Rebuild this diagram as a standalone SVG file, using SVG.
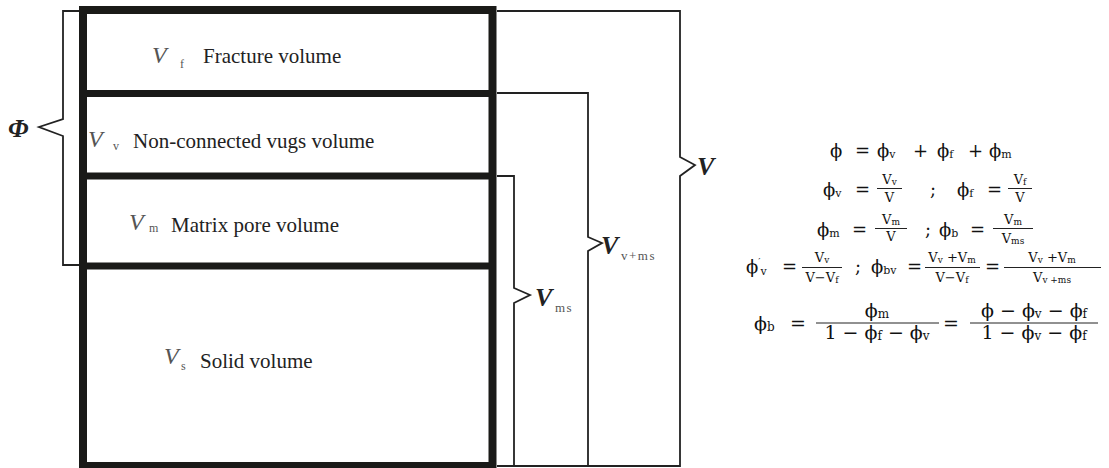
<svg xmlns="http://www.w3.org/2000/svg" width="1109" height="468" viewBox="0 0 1109 468">
<style>
.thick{fill:none;stroke:#1a1a18;stroke-width:8}
.div{stroke:#1a1a18;stroke-width:7}
.br{fill:none;stroke:#222;stroke-width:1.8;stroke-linejoin:miter}
.lbl{font-family:"Liberation Serif",serif;font-size:21px;fill:#222}
.vi{font-family:"Liberation Serif",serif;font-size:24px;font-style:italic;fill:#555}
.vsub{font-family:"Liberation Serif",serif;font-size:12px;fill:#555}
.bv{font-family:"Liberation Serif",serif;font-size:26px;font-style:italic;font-weight:bold;fill:#222}
.bsub{font-family:"Liberation Serif",serif;font-size:13px;fill:#555;letter-spacing:1.5px}
.eq{font-family:"DejaVu Serif",serif;font-size:18px;fill:#111}
.eqL{font-family:"DejaVu Serif",serif;font-size:19px;fill:#111}
.fr{font-family:"DejaVu Serif",serif;font-size:13px;fill:#111}
.s{font-size:11px}
.fs{font-size:9px}
.bar{stroke:#222;stroke-width:1}
</style>
<g id="box">
<rect class="thick" x="83" y="10" width="409.5" height="456"/>
<line class="div" x1="83" y1="93.5" x2="492" y2="93.5"/>
<line class="div" x1="83" y1="176" x2="492" y2="176"/>
<line class="div" x1="83" y1="266" x2="492" y2="266"/>
</g>
<g id="fracture">
<text class="vi" x="152" y="63">V</text><text class="vsub" x="180" y="68">f</text>
<text class="lbl" x="203" y="63">Fracture volume</text>
</g>
<g id="vugs">
<text class="vi" x="88" y="147">V</text><text class="vsub" x="113" y="150">v</text>
<text class="lbl" x="133" y="148">Non-connected vugs volume</text>
</g>
<g id="matrix">
<text class="vi" x="129" y="230">V</text><text class="vsub" x="149" y="232">m</text>
<text class="lbl" x="171" y="232">Matrix pore volume</text>
</g>
<g id="solid">
<text class="vi" x="164" y="364">V</text><text class="vsub" x="181" y="370">s</text>
<text class="lbl" x="200" y="368">Solid volume</text>
</g>
<g id="connectors">
<path class="br" d="M79 11 H63 V119 L39 127 L63 136 V265 H79"/>
<path class="br" d="M497 11 H680 V157 L695 165 L680 176 V466 H497"/>
<path class="br" d="M497 93 H588 V237 L602 243 L588 251 V466"/>
<path class="br" d="M497 176 H514 V288 L530 295 L514 303 V466"/>
</g>
<g id="phi-label"><text class="bv" x="8" y="137">Φ</text></g>
<g id="V-label"><text class="bv" x="697" y="175">V</text></g>
<g id="Vvms-label"><text class="bv" x="601" y="254">V</text><text class="bsub" x="621" y="260">v+ms</text></g>
<g id="Vms-label"><text class="bv" x="535" y="306">V</text><text class="bsub" x="555" y="312">ms</text></g>
<g id="equations">
<!-- line 1 -->
<text class="eq" x="830" y="157">ϕ</text>
<text class="eq" x="855" y="157">=</text>
<text class="eq" x="877" y="157">ϕ<tspan class="s" dy="1">v</tspan></text>
<text class="eq" x="913" y="157">+</text>
<text class="eq" x="937" y="157">ϕ<tspan class="s" dy="1">f</tspan></text>
<text class="eq" x="968" y="157">+</text>
<text class="eq" x="989" y="157">ϕ<tspan class="s" dy="1">m</tspan></text>
<!-- line 2 -->
<text class="eq" x="823" y="196">ϕ<tspan class="s" dy="1">v</tspan></text>
<text class="eq" x="855" y="196">=</text>
<text class="fr" x="889.5" y="184" text-anchor="middle">V<tspan class="fs" dy="1">v</tspan></text>
<line class="bar" x1="877" y1="188.5" x2="902" y2="188.5"/>
<text class="fr" x="889.5" y="202" text-anchor="middle">V</text>
<text class="eq" x="930" y="196">;</text>
<text class="eq" x="957" y="196">ϕ<tspan class="s" dy="1">f</tspan></text>
<text class="eq" x="987" y="196">=</text>
<text class="fr" x="1020" y="184" text-anchor="middle">V<tspan class="fs" dy="1">f</tspan></text>
<line class="bar" x1="1008" y1="188.5" x2="1032" y2="188.5"/>
<text class="fr" x="1020" y="202" text-anchor="middle">V</text>
<!-- line 3 -->
<text class="eq" x="817" y="236">ϕ<tspan class="s" dy="1">m</tspan></text>
<text class="eq" x="852" y="236">=</text>
<text class="fr" x="891" y="224" text-anchor="middle">V<tspan class="fs" dy="1">m</tspan></text>
<line class="bar" x1="875" y1="228.5" x2="907" y2="228.5"/>
<text class="fr" x="891" y="241" text-anchor="middle">V</text>
<text class="eq" x="925" y="236">;</text>
<text class="eq" x="939" y="236">ϕ<tspan class="s" dy="1">b</tspan></text>
<text class="eq" x="970" y="236">=</text>
<text class="fr" x="1013" y="224" text-anchor="middle">V<tspan class="fs" dy="1">m</tspan></text>
<line class="bar" x1="993" y1="228.5" x2="1033" y2="228.5"/>
<text class="fr" x="1013" y="243" text-anchor="middle">V<tspan class="fs" dy="1">ms</tspan></text>
<!-- line 4 -->
<text class="eq" x="746" y="273">ϕ<tspan font-size="10" dy="-8">′</tspan><tspan class="s" dy="10">v</tspan></text>
<text class="eq" x="782" y="273">=</text>
<text class="fr" x="822" y="262" text-anchor="middle">V<tspan class="fs" dy="1">v</tspan></text>
<line class="bar" x1="802" y1="267.5" x2="842" y2="267.5"/>
<text class="fr" x="822" y="282" text-anchor="middle">V−V<tspan class="fs" dy="1">f</tspan></text>
<text class="eq" x="855" y="273">;</text>
<text class="eq" x="871" y="273">ϕ<tspan class="s" dy="1">bv</tspan></text>
<text class="eq" x="907" y="273">=</text>
<text class="fr" x="952" y="262" text-anchor="middle">V<tspan class="fs" dy="1">v</tspan><tspan dy="-1"> +V</tspan><tspan class="fs" dy="1">m</tspan></text>
<line class="bar" x1="925" y1="267.5" x2="980" y2="267.5"/>
<text class="fr" x="952" y="282" text-anchor="middle">V−V<tspan class="fs" dy="1">f</tspan></text>
<text class="eq" x="985" y="273">=</text>
<text class="fr" x="1052" y="262" text-anchor="middle">V<tspan class="fs" dy="1">v</tspan><tspan dy="-1"> +V</tspan><tspan class="fs" dy="1">m</tspan></text>
<line class="bar" x1="1004" y1="267.5" x2="1101" y2="267.5"/>
<text class="fr" x="1052" y="282" text-anchor="middle">V<tspan class="fs" dy="1">v +ms</tspan></text>
<!-- line 5 -->
<text class="eqL" x="754" y="330">ϕ<tspan font-size="12" dy="1">b</tspan></text>
<text class="eqL" x="790" y="330">=</text>
<text class="eqL" x="877" y="317" text-anchor="middle">ϕ<tspan font-size="12" dy="1">m</tspan></text>
<line class="bar" x1="816" y1="323" x2="939" y2="323"/>
<text class="eqL" x="877" y="339" text-anchor="middle">1 − ϕ<tspan font-size="12" dy="1">f</tspan><tspan dy="-1"> − ϕ</tspan><tspan font-size="12" dy="1">v</tspan></text>
<text class="eqL" x="943" y="330">=</text>
<text class="eqL" x="1034" y="317" text-anchor="middle">ϕ − ϕ<tspan font-size="12" dy="1">v</tspan><tspan dy="-1"> − ϕ</tspan><tspan font-size="12" dy="1">f</tspan></text>
<line class="bar" x1="970" y1="323" x2="1098" y2="323"/>
<text class="eqL" x="1034" y="339" text-anchor="middle">1 − ϕ<tspan font-size="12" dy="1">v</tspan><tspan dy="-1"> − ϕ</tspan><tspan font-size="12" dy="1">f</tspan></text>
</g>
</svg>
